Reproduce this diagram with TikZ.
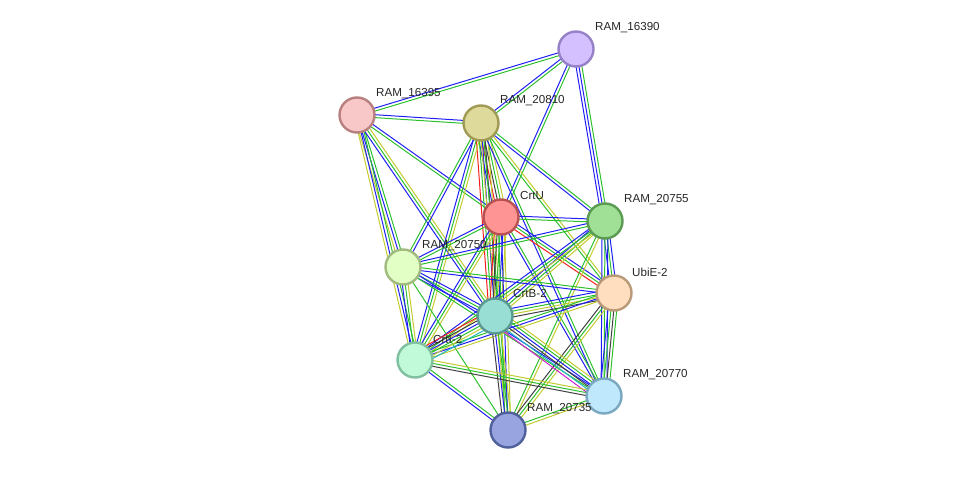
\documentclass[tikz,border=0pt]{standalone}
\usepackage{fontspec}
\setmainfont{Liberation Sans}
\usetikzlibrary{calc,backgrounds}
\definecolor{eblue}{HTML}{1F1FF5}
\definecolor{egreen}{HTML}{2DC02D}
\definecolor{eyellow}{HTML}{C2CC30}
\definecolor{ered}{HTML}{F51F1F}
\definecolor{eblack}{HTML}{404040}
\definecolor{emag}{HTML}{D020D0}
\definecolor{ecyan}{HTML}{20B8C0}
\tikzset{
  prot/.style={circle,minimum size=35pt,inner sep=0pt,line width=2.4pt},
  lbl/.style={font=\fontsize{11.6pt}{13pt}\selectfont,anchor=west,inner sep=0pt,text=black!85},
  eline/.style={line width=1pt}
}
\newcommand{\sedge}[4]{%
  \foreach \cc [count=\ii] in {#4} {%
    \pgfmathsetmacro\off{(\ii-(#3+1)/2)*2.9}%
    \draw[eline,\cc] ($(#1)!\off pt!90:(#2)$) -- ($(#2)!\off pt!-90:(#1)$);
  }%
}
\begin{document}
\begin{tikzpicture}[x=1pt,y=-1pt]
\useasboundingbox (0,0) rectangle (976,476);
% nodes
\node[prot,fill={rgb,255:red,212;green,192;blue,255},draw={rgb,255:red,150;green,128;blue,200}] (A) at (576,49) {};
\node[prot,fill={rgb,255:red,248;green,200;blue,200},draw={rgb,255:red,184;green,128;blue,128}] (B) at (357,115) {};
\node[prot,fill={rgb,255:red,222;green,218;blue,156},draw={rgb,255:red,160;green,154;blue,84}] (C) at (481,123) {};
\node[prot,fill={rgb,255:red,255;green,148;blue,148},draw={rgb,255:red,184;green,82;blue,82}] (U) at (501,217) {};
\node[prot,fill={rgb,255:red,160;green,224;blue,150},draw={rgb,255:red,90;green,154;blue,82}] (G) at (605,221) {};
\node[prot,fill={rgb,255:red,226;green,255;blue,198},draw={rgb,255:red,160;green,186;blue,128}] (Y) at (403,267) {};
\node[prot,fill={rgb,255:red,255;green,222;blue,192},draw={rgb,255:red,184;green,154;blue,120}] (E) at (614,293) {};
\node[prot,fill={rgb,255:red,152;green,222;blue,212},draw={rgb,255:red,90;green,154;blue,144}] (T) at (495,316) {};
\node[prot,fill={rgb,255:red,192;green,250;blue,216},draw={rgb,255:red,128;green,192;blue,160}] (I) at (415,360) {};
\node[prot,fill={rgb,255:red,192;green,232;blue,252},draw={rgb,255:red,122;green,168;blue,192}] (L) at (604,396) {};
\node[prot,fill={rgb,255:red,152;green,164;blue,224},draw={rgb,255:red,80;green,96;blue,154}] (D) at (508,430) {};
% edges
\begin{scope}[on background layer]
\sedge{A}{B}{2}{eblue,egreen}
\sedge{A}{C}{2}{eblue,egreen}
\sedge{A}{U}{2}{eblue,egreen}
\sedge{A}{G}{3}{eblue,eblue,egreen}
\sedge{B}{C}{2}{egreen,eblue}
\sedge{B}{U}{2}{egreen,eblue}
\sedge{B}{Y}{3}{eyellow,eblue,egreen}
\sedge{B}{I}{3}{eyellow,eblue,egreen}
\sedge{B}{T}{3}{eblue,egreen,eyellow}
\sedge{C}{U}{5}{eblue,ered,eblack,egreen,eyellow}
\sedge{C}{T}{5}{ered,egreen,eblue,eblack,eyellow}
\sedge{C}{G}{2}{eblue,egreen}
\sedge{C}{E}{2}{egreen,eyellow}
\sedge{C}{L}{2}{eblue,egreen}
\sedge{C}{Y}{2}{egreen,eblue}
\sedge{C}{I}{3}{eblue,egreen,eyellow}
\sedge{C}{D}{2}{eyellow,egreen}
\sedge{U}{G}{2}{egreen,eblue}
\sedge{U}{E}{3}{ered,egreen,eblue}
\sedge{U}{Y}{2}{eblue,egreen}
\sedge{U}{T}{5}{ered,eblack,egreen,eblue,eyellow}
\sedge{U}{I}{3}{eblue,egreen,eyellow}
\sedge{U}{L}{2}{eblue,egreen}
\sedge{U}{D}{3}{egreen,eblue,eyellow}
\sedge{G}{Y}{2}{eblue,egreen}
\sedge{G}{T}{3}{eblue,egreen,eyellow}
\sedge{G}{I}{3}{eblue,egreen,eyellow}
\sedge{G}{E}{3}{eblue,egreen,eblue}
\sedge{G}{L}{3}{eblue,egreen,eblue}
\sedge{G}{D}{2}{egreen,eyellow}
\sedge{Y}{E}{2}{eblue,egreen}
\sedge{Y}{T}{3}{eblue,egreen,eblue}
\sedge{Y}{I}{3}{eblue,egreen,eyellow}
\sedge{Y}{L}{2}{egreen,eblue}
\sedge{Y}{D}{1}{egreen}
\sedge{E}{T}{4}{eblue,egreen,eyellow,eblack}
\sedge{E}{I}{3}{egreen,eblue,eyellow}
\sedge{E}{L}{4}{eblue,egreen,eblack,egreen}
\sedge{E}{D}{3}{eblack,egreen,eyellow}
\sedge{T}{I}{6}{ered,eblack,eblue,egreen,eyellow,ecyan}
\sedge{T}{L}{6}{emag,ecyan,eblack,eblue,egreen,eyellow}
\sedge{T}{D}{4}{eblack,eblue,egreen,eyellow}
\sedge{I}{L}{3}{eblack,egreen,eyellow}
\sedge{I}{D}{2}{eblue,egreen}
\sedge{L}{D}{2}{egreen,eyellow}
\end{scope}
% labels
\node[lbl] (lA) at (595,28) {RAM\_16390};
\node[lbl] (lB) at (376,94) {RAM\_16395};
\node[lbl] (lC) at (500,101) {RAM\_20810};
\node[lbl] (lU) at (520,196) {CrtU};
\node[lbl] (lG) at (624,200) {RAM\_20755};
\node[lbl] (lY) at (422,246) {RAM\_20750};
\node[lbl] (lE) at (632,272) {UbiE-2};
\node[lbl] (lT) at (513,294) {CrtB-2};
\node[lbl] (lI) at (433,340) {CrtI-2};
\node[lbl] (lL) at (623,375) {RAM\_20770};
\node[lbl] (lD) at (527,409) {RAM\_20735};
\end{tikzpicture}
\end{document}
